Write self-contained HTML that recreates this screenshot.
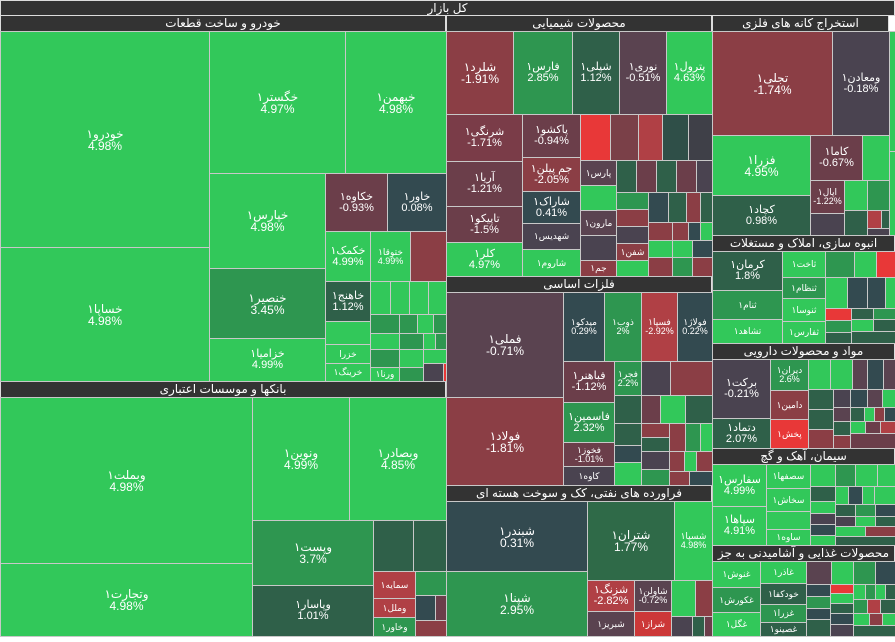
<!DOCTYPE html>
<html><head><meta charset="utf-8"><style>
body{margin:0;width:895px;height:642px;background:#fff;overflow:hidden;font-family:"Liberation Sans","DejaVu Sans",sans-serif;position:relative}
.c{position:absolute;box-sizing:border-box;border:1px solid #c8c8c8;color:#fff;display:flex;flex-direction:column;align-items:center;justify-content:center;text-align:center;font-size:11px;line-height:11px;overflow:hidden;white-space:nowrap}
.h{position:absolute;box-sizing:border-box;background:#333;color:#fff;font-size:12px;line-height:15px;text-align:center;border:1px solid #ddd;overflow:hidden;white-space:nowrap;font-family:"Liberation Sans","DejaVu Sans",sans-serif}
</style></head><body>
<div class="h" style="left:0;top:0;width:895px;height:16px">کل بازار</div>
<div class="h" style="left:0;top:15px;width:446px;height:17px">خودرو و ساخت قطعات</div>
<div class="h" style="left:0;top:381px;width:446px;height:17px">بانکها و موسسات اعتباری</div>
<div class="h" style="left:446px;top:15px;width:266px;height:17px">محصولات شیمیایی</div>
<div class="h" style="left:446px;top:276px;width:266px;height:17px">فلزات اساسی</div>
<div class="h" style="left:446px;top:485px;width:266px;height:17px">فراورده های نفتی، کک و سوخت هسته ای</div>
<div class="h" style="left:712px;top:15px;width:177px;height:17px">استخراج کانه های فلزی</div>
<div class="h" style="left:712px;top:235px;width:183px;height:17px">انبوه سازی، املاک و مستغلات</div>
<div class="h" style="left:712px;top:343px;width:183px;height:17px">مواد و محصولات دارویی</div>
<div class="h" style="left:712px;top:448px;width:183px;height:17px">سیمان، آهک و گچ</div>
<div class="h" style="left:712px;top:545px;width:183px;height:17px">محصولات غذایی و آشامیدنی به جز</div>
<div id="root"></div>
<script>
var G='#32c85a',MG='#2e9650',DG='#2f6049',SL='#334a50',PU='#4a4350',PM='#5a4350',MA='#6b3e4a',RB='#8b3e45',RD='#b04045',BR='#e83838';
var R=[
[0,31,209,216,G,'خودرو۱','4.98%'],[0,247,209,134,G,'خساپا۱','4.98%'],
[209,31,136,142,G,'خگستر۱','4.97%'],[345,31,101,142,G,'خبهمن۱','4.98%'],
[209,173,116,95,G,'خپارس۱','4.98%'],[209,268,116,70,MG,'خنصیر۱','3.45%'],[209,338,116,43,G,'خزامیا۱','4.99%'],
[325,173,62,58,MA,'خکاوه۱','-0.93%'],[387,173,59,58,SL,'خاور۱','0.08%'],
[325,231,45,50,G,'خکمک۱','4.99%'],[370,231,40,50,G,'ختوقا۱','4.99%'],[410,231,36,50,RB,'',''],
[325,281,45,40,DG,'خاهنج۱','1.12%'],[325,321,45,23,G,'',''],[325,344,45,19,G,'خزرا',''],[325,363,45,18,G,'خرینگ۱',''],
[370,281,20,33,G,'',''],[390,281,19,33,G,'',''],[409,281,19,33,G,'',''],[428,281,18,33,G,'',''],
[370,314,29,19,MG,'',''],[399,314,18,19,MG,'',''],[417,314,16,19,G,'',''],[433,314,13,19,MG,'',''],
[370,333,29,16,G,'',''],[399,333,24,16,MG,'',''],[423,333,12,16,G,'',''],[435,333,11,16,MG,'',''],
[370,349,29,18,MG,'',''],[399,349,24,18,G,'',''],[423,349,23,14,G,'',''],
[370,367,29,14,G,'ورنا۱',''],[399,367,24,14,MG,'',''],[423,363,20,18,PU,'',''],[443,363,3,18,BR,'',''],
[0,397,252,166,G,'وبملت۱','4.98%'],[0,563,252,73,G,'وتجارت۱','4.98%'],
[252,397,97,123,G,'ونوین۱','4.99%'],[349,397,97,123,G,'وبصادر۱','4.85%'],
[252,520,121,65,MG,'وپست۱','3.7%'],[252,585,121,51,DG,'وپاسار۱','1.01%'],
[373,520,40,51,DG,'',''],[413,520,33,51,DG,'',''],
[373,571,42,27,RD,'سمایه۱',''],[373,598,42,19,RD,'وملل۱',''],[373,617,42,19,MG,'وخاور۱',''],
[415,571,31,24,MG,'',''],[415,595,20,25,SL,'',''],[435,595,11,25,MA,'',''],[415,620,31,16,RB,'',''],
[446,31,67,83,RB,'شلرد۱','-1.91%'],[513,31,59,83,MG,'فارس۱','2.85%'],[572,31,47,83,DG,'شپلی۱','1.12%'],[619,31,47,83,PM,'نوری۱','-0.51%'],[666,31,46,83,G,'پترول۱','4.63%'],
[446,114,76,47,'#7a3c48','شرنگی۱','-1.71%'],[446,161,76,45,MA,'آریا۱','-1.21%'],[446,206,76,36,MA,'تاپیکو۱','-1.5%'],[446,242,76,34,G,'کلر۱','4.97%'],
[522,114,58,43,MA,'پاکشو۱','-0.94%'],[522,157,58,34,RB,'جم پیلن۱','-2.05%'],[522,191,58,32,SL,'شاراک۱','0.41%'],[522,223,58,26,PU,'شهدیس۱',''],[522,249,58,27,G,'شاروم۱',''],
[580,114,30,46,BR,'',''],[610,114,28,46,'#7a4048','',''],[638,114,24,46,RD,'',''],[662,114,26,46,'#2f4f48','',''],[688,114,24,46,'#3f4048','',''],
[580,160,36,25,PM,'پارس۱',''],[580,185,36,25,G,'',''],[580,210,36,25,PM,'مارون۱',''],[580,235,36,25,PU,'',''],[580,260,36,16,RB,'جم۱',''],
[616,160,20,32,DG,'',''],[636,160,20,32,MA,'',''],[656,160,20,32,DG,'',''],[676,160,20,32,MA,'',''],[696,160,16,32,PU,'',''],
[616,192,32,17,MG,'',''],[616,209,32,17,RB,'',''],[616,226,32,17,PU,'',''],[616,243,32,17,RB,'شفن۱',''],[616,260,32,16,G,'',''],
[648,192,20,30,SL,'',''],[668,192,18,30,DG,'',''],[686,192,14,30,RB,'',''],[700,192,12,30,DG,'',''],
[648,222,24,18,RB,'',''],[672,222,16,18,RB,'',''],[688,222,12,18,SL,'',''],[700,222,12,18,G,'',''],
[648,240,24,17,G,'',''],[672,240,20,17,G,'',''],[692,240,20,17,SL,'',''],[648,257,24,19,RB,'',''],[672,257,20,19,MG,'',''],[692,257,20,19,RB,'',''],
[446,292,117,105,PM,'فملی۱','-0.71%'],[446,397,117,88,RB,'فولاد۱','-1.81%'],
[563,292,41,69,SL,'میدکو۱','0.29%'],[604,292,37,69,MG,'ذوب۱','2%'],[641,292,36,69,RD,'فسپا۱','-2.92%'],[677,292,35,69,SL,'فولاژ۱','0.22%'],
[563,361,51,41,MA,'فباهنر۱','-1.12%'],[563,402,51,40,MG,'فاسمین۱','2.32%'],[563,442,51,24,MA,'فخوز۱','-1.01%'],[563,466,51,19,PU,'کاوه۱',''],
[614,361,27,34,MG,'فجر۱','2.2%'],[641,361,29,34,PU,'',''],[670,361,42,34,RB,'',''],
[614,395,27,28,DG,'',''],[641,395,19,28,MA,'',''],[660,395,25,28,G,'',''],[685,395,27,28,DG,'',''],
[614,423,27,22,DG,'',''],[641,423,28,14,RB,'',''],[669,423,16,28,RB,'',''],[685,423,15,28,MG,'',''],[700,423,12,28,G,'',''],
[614,445,27,17,SL,'',''],[641,437,28,14,DG,'',''],[614,462,27,23,G,'',''],[641,451,28,18,PU,'',''],[641,469,28,16,MG,'',''],
[669,451,15,20,RB,'',''],[684,451,12,20,G,'',''],[696,451,16,20,RB,'',''],[669,471,20,14,RB,'',''],[689,471,23,14,SL,'',''],
[446,501,141,70,SL,'شبندر۱','0.31%'],[446,571,141,65,MG,'شپنا۱','2.95%'],
[587,501,87,79,'#2f6a48','شتران۱','1.77%'],[674,501,38,79,G,'شسپا۱','4.98%'],
[587,580,47,31,RD,'شزنگ۱','-2.82%'],[634,580,37,31,PM,'شاولن۱','-0.72%'],[587,611,47,25,PM,'شبریز۱',''],[634,611,37,25,'#cc3838','شراز۱',''],
[671,580,24,36,G,'',''],[695,580,17,36,RB,'',''],[671,616,21,20,PU,'',''],[692,616,12,20,DG,'',''],[704,616,8,20,MA,'',''],
[712,31,120,104,RB,'تجلی۱','-1.74%'],[832,31,57,104,PU,'ومعادن۱','-0.18%'],
[712,135,98,60,G,'فزرا۱','4.95%'],[712,195,98,40,DG,'کچاد۱','0.98%'],
[810,135,52,45,MA,'کاما۱','-0.67%'],[862,135,27,45,G,'',''],
[810,180,34,33,MA,'اپال۱','-1.22%'],[810,213,34,22,PU,'',''],[844,180,23,30,G,'',''],[867,180,22,30,MG,'',''],
[844,210,23,25,DG,'',''],[867,210,14,18,RD,'',''],[881,210,8,18,DG,'',''],[867,228,22,7,PU,'',''],
[889,31,6,120,G,'',''],[889,151,6,84,G,'',''],
[712,251,70,39,DG,'کرمان۱','1.8%'],[712,290,70,29,MG,'ثنام۱',''],[712,319,70,24,G,'تشاهد۱',''],
[782,251,43,26,G,'ثاخت۱',''],[782,277,43,21,MG,'ثنظام۱',''],[782,298,43,23,G,'ثنوسا۱',''],[782,321,43,22,G,'ثفارس۱',''],
[825,251,29,26,MG,'',''],[854,251,22,26,G,'',''],[876,251,19,26,BR,'',''],
[825,277,22,31,G,'',''],[847,277,20,31,SL,'',''],[867,277,18,31,SL,'',''],[885,277,10,31,G,'',''],
[825,308,26,12,BR,'',''],[851,308,22,11,DG,'',''],[873,308,22,11,MG,'',''],[825,320,26,12,MG,'',''],[851,319,22,12,G,'',''],[873,319,22,12,DG,'',''],[825,332,26,11,DG,'',''],[851,331,44,12,DG,'',''],
[712,359,58,59,PU,'برکت۱','-0.21%'],[712,418,58,30,DG,'دتماد۱','2.07%'],
[770,359,38,31,MG,'دیران۱','2.6%'],[770,390,38,29,RB,'دامین۱',''],[770,419,38,29,BR,'پخش۱',''],
[808,359,22,30,G,'',''],[830,359,22,30,G,'',''],[852,359,15,30,PM,'',''],[867,359,16,30,SL,'',''],[883,359,12,30,PM,'',''],
[808,389,25,20,DG,'',''],[833,389,17,18,PU,'',''],[850,389,17,18,SL,'',''],[867,389,15,18,PM,'',''],[882,389,13,18,G,'',''],
[808,409,25,20,DG,'',''],[833,407,17,14,PM,'',''],[850,407,14,14,DG,'',''],[864,407,10,14,G,'',''],[874,407,10,14,RB,'',''],[884,407,11,14,SL,'',''],
[808,429,25,19,RB,'',''],[833,421,17,14,DG,'',''],[850,421,15,12,G,'',''],[865,421,15,12,MA,'',''],[880,421,15,12,RD,'',''],[833,435,17,13,RB,'',''],[850,433,45,15,MA,'',''],
[712,464,54,42,G,'سفارس۱','4.99%'],[712,506,54,39,G,'سپاها۱','4.91%'],
[766,464,44,24,G,'سصفها۱',''],[766,488,44,23,G,'سخاش۱',''],[766,511,44,18,G,'',''],[766,529,44,16,G,'ساوه۱',''],
[810,464,25,22,G,'',''],[835,464,20,22,MG,'',''],[855,464,22,22,G,'',''],[877,464,18,22,G,'',''],
[810,486,25,15,DG,'',''],[835,486,13,18,G,'',''],[848,486,14,18,SL,'',''],[862,486,12,18,G,'',''],[874,486,21,18,G,'',''],
[810,501,25,12,G,'',''],[810,513,25,11,PU,'',''],[810,524,25,11,SL,'',''],[810,535,25,10,G,'',''],
[835,504,20,12,DG,'',''],[855,504,20,12,MG,'',''],[875,504,20,12,SL,'',''],[835,516,20,10,PU,'',''],[855,516,20,10,G,'',''],[875,516,20,10,DG,'',''],
[835,526,30,10,G,'',''],[865,526,30,10,RB,'',''],[835,536,60,9,DG,'',''],
[712,561,48,26,G,'غنوش۱',''],[712,587,48,25,MG,'غکورش۱',''],[712,612,48,24,G,'غگل۱',''],
[760,561,46,22,G,'غاذر۱',''],[760,583,46,21,DG,'خودکفا۱',''],[760,604,46,18,MG,'غزرا۱',''],[760,622,46,14,DG,'غصینو۱',''],
[806,561,25,23,PM,'',''],[831,561,22,23,G,'',''],[853,561,22,23,MG,'',''],[875,561,20,23,SL,'',''],
[806,584,24,12,SL,'',''],[830,584,23,9,BR,'',''],[853,584,12,15,G,'',''],[865,584,10,15,MG,'',''],[875,584,10,15,G,'',''],[885,584,10,15,DG,'',''],
[806,596,24,12,MG,'',''],[830,593,23,10,G,'',''],[806,608,24,11,SL,'',''],[830,603,23,10,DG,'',''],[853,599,14,14,MG,'',''],[867,599,13,14,RD,'',''],[880,599,15,14,DG,'',''],
[806,619,24,17,DG,'',''],[830,613,23,11,SL,'',''],[830,624,23,12,PU,'',''],[853,613,16,12,G,'',''],[869,613,13,12,RB,'',''],[882,613,13,12,G,'',''],[853,625,42,11,DG,'','']
];
var root=document.getElementById('root'),h='';
R.forEach(function(r){
 var s=Math.min(r[2],r[3]),fs=s>=60?12:(s>=30?11:9);
 if(r[2]<45&&r[5])fs=Math.min(fs,9);
 h+='<div class="c" style="left:'+r[0]+'px;top:'+r[1]+'px;width:'+(r[2]+1)+'px;height:'+(r[3]+1)+'px;background:'+r[4]+';font-size:'+fs+'px;line-height:'+fs+'px">'+(r[5]?'<span>'+r[5]+'</span>':'')+(r[6]?'<span dir="ltr">'+r[6]+'</span>':'')+'</div>';
});
root.innerHTML=h;
</script>
</body></html>
